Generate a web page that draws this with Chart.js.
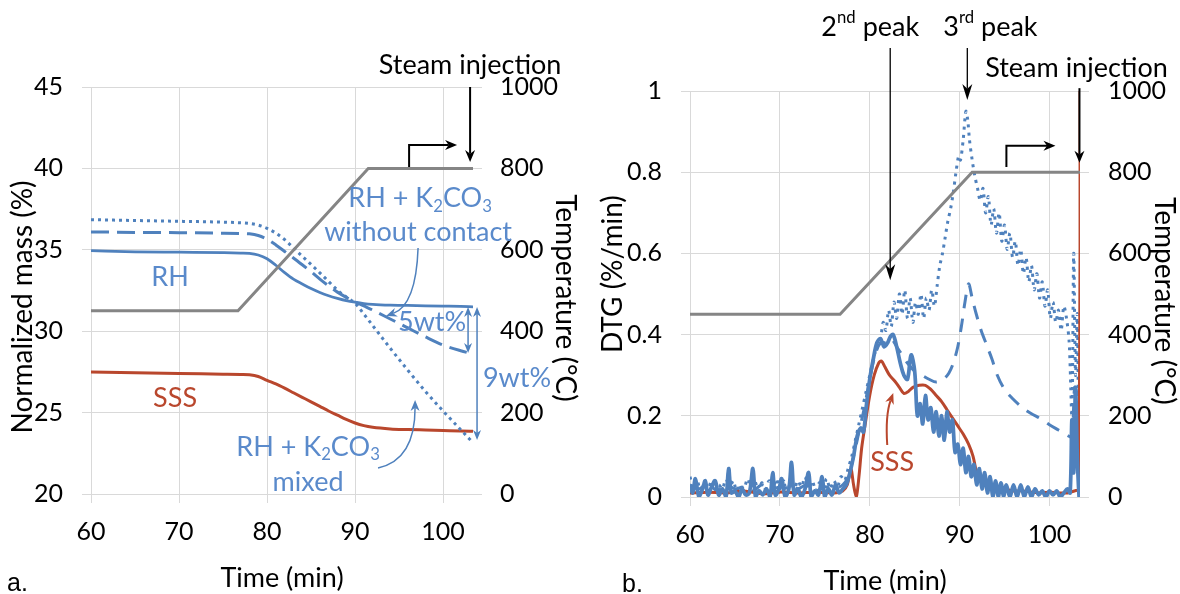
<!DOCTYPE html>
<html><head><meta charset="utf-8">
<script src="https://cdn.jsdelivr.net/npm/chart.js@4.4.1/dist/chart.umd.min.js"></script>
<style>
html,body{margin:0;padding:0;background:#fff;width:1180px;height:594px;overflow:hidden;}
#wa{position:absolute;left:0;top:0;width:590px;height:594px;}
#wb{position:absolute;left:590px;top:0;width:590px;height:594px;}
.lab{position:absolute;font-family:"Liberation Sans",Arial,sans-serif;font-size:25px;line-height:28px;color:#000;}
</style></head><body>
<div id="wa"><canvas id="ca" width="590" height="594"></canvas></div>
<div id="wb"><canvas id="cb" width="590" height="594"></canvas></div>
<div class="lab" style="left:7px;top:568px">a.</div>
<div class="lab" style="left:622px;top:569px">b.</div>
<script>
// ---------- tick labels ----------
const timeTicks = [60, 70, 80, 90, 100];
const massTicks = [20, 25, 30, 35, 40, 45];
const tempTicks = [0, 200, 400, 600, 800, 1000];
const dtgTicks = [0, 0.2, 0.4, 0.6, 0.8, 1];

// ---------- panel a: normalized mass ----------
const tempTimeA = [60, 76.7, 91.5, 103.4];
const tempA = [450, 450, 800, 800];
const massTimeA = [60, 65, 70, 75, 77, 78, 79, 80, 81, 82, 83, 84, 85, 86, 87, 88, 89, 90, 91, 92, 94, 96, 98, 100, 102, 103.4];
const massRH = [34.95, 34.88, 34.85, 34.82, 34.8, 34.78, 34.68, 34.45, 34.05, 33.6, 33.2, 32.9, 32.62, 32.38, 32.18, 32.02, 31.88, 31.78, 31.7, 31.65, 31.6, 31.58, 31.56, 31.54, 31.52, 31.5];
const massNoContact = [36.1, 36.07, 36.05, 36.02, 36.0, 35.98, 35.88, 35.65, 35.3, 34.9, 34.5, 34.08, 33.65, 33.2, 32.78, 32.4, 32.08, 31.8, 31.55, 31.3, 30.75, 30.2, 29.65, 29.15, 28.8, 28.6];
const massMixed = [36.85, 36.8, 36.75, 36.7, 36.66, 36.62, 36.52, 36.32, 36.02, 35.62, 35.12, 34.6, 34.1, 33.58, 33.05, 32.52, 32.1, 31.72, 31.05, 30.35, 28.95, 27.6, 26.3, 25.1, 23.95, 23.15];
const massSSS = [27.5, 27.45, 27.4, 27.36, 27.34, 27.32, 27.22, 26.98, 26.76, 26.5, 26.22, 25.94, 25.66, 25.38, 25.1, 24.84, 24.58, 24.36, 24.2, 24.1, 24.0, 23.96, 23.93, 23.9, 23.87, 23.85];

// ---------- panel b: DTG ----------
const tempTimeB = [60, 76.7, 91.4, 103.4];
const tempB = [450, 450, 800, 800];

const timeRHb = [60, 60.3, 60.6, 61, 61.4, 61.7, 62, 62.4, 62.8, 63.2, 63.6, 64, 64.3, 64.6, 65, 65.4, 65.8, 66.2, 66.6, 67, 67.3, 67.7, 68.1, 68.5, 68.9, 69.2, 69.5, 69.9, 70.2, 70.6, 71, 71.3, 71.6, 72, 72.4, 72.8, 73.2, 73.5, 73.9, 74.3, 74.7, 75, 75.4, 75.8, 76.2, 76.6, 77, 77.4, 77.8, 78.2, 78.6, 79, 79.3, 79.6, 80, 80.4, 80.8, 81.2, 81.6, 82, 82.3, 82.6, 83, 83.4, 83.8, 84.2, 84.6, 85, 85.3, 85.6, 85.9, 86.2, 86.5, 86.8, 87.1, 87.4, 87.7, 88, 88.3, 88.6, 88.9, 89.2, 89.5, 89.8, 90.1, 90.4, 90.7, 91, 91.3, 91.6, 91.9, 92.2, 92.5, 92.8, 93.1, 93.4, 93.7, 94, 94.3, 94.6, 94.9, 95.2, 95.6, 96, 96.4, 96.8, 97.2, 97.6, 98, 98.4, 98.8, 99.2, 99.6, 100, 100.4, 100.8, 101.2, 101.6, 102, 102.3, 102.5, 102.7, 102.9, 103.1, 103.3, 103.4];
const dtgRH = [0.03, 0.01, 0.045, 0.0, 0.02, 0.04, 0.005, 0.025, 0.04, 0.005, 0.02, 0.0, 0.07, 0.01, 0.015, 0.0, 0.02, 0.005, 0.01, 0.07, 0.0, 0.015, 0.005, 0.02, 0.0, 0.06, 0.005, 0.02, 0.045, 0.0, 0.02, 0.085, 0.005, 0.02, 0.0, 0.02, 0.06, 0.0, 0.015, 0.005, 0.05, 0.0, 0.02, 0.005, 0.03, 0.01, 0.02, 0.03, 0.06, 0.1, 0.15, 0.17, 0.16, 0.22, 0.29, 0.34, 0.38, 0.39, 0.37, 0.38, 0.395, 0.4, 0.37, 0.33, 0.3, 0.29, 0.35, 0.31, 0.2, 0.23, 0.18, 0.25, 0.19, 0.22, 0.16, 0.21, 0.15, 0.2, 0.14, 0.21, 0.16, 0.19, 0.11, 0.13, 0.08, 0.12, 0.06, 0.1, 0.05, 0.08, 0.03, 0.07, 0.02, 0.06, 0.01, 0.05, 0.0, 0.04, 0.0, 0.035, 0.0, 0.03, 0.0, 0.03, 0.0, 0.03, 0.0, 0.025, 0.0, 0.02, 0.005, 0.015, 0.0, 0.015, 0.005, 0.015, 0.0, 0.01, 0.02, 0.01, 0.19, 0.06, 0.27, 0.1, 0.0, 0.0];

const timeSSSb = [60, 62, 64, 66, 68, 70, 72, 74, 76, 77, 77.5, 77.9, 78.2, 78.5, 78.8, 79.1, 79.5, 80, 80.5, 81, 81.3, 81.7, 82.2, 82.8, 83.3, 83.8, 84.3, 84.8, 85.5, 86.2, 86.8, 87.4, 88, 88.6, 89.2, 89.8, 90.4, 91, 91.5, 91.9, 92.3, 92.8, 93.4, 94, 95, 96, 97, 98, 99, 100, 101, 102, 102.8, 103.3, 103.4];
const dtgSSS = [0.01, 0.012, 0.01, 0.015, 0.008, 0.012, 0.01, 0.012, 0.01, 0.015, 0.03, 0.07, 0.03, 0.0, 0.05, 0.12, 0.18, 0.25, 0.3, 0.33, 0.335, 0.32, 0.3, 0.285, 0.27, 0.255, 0.26, 0.27, 0.275, 0.275, 0.265, 0.25, 0.235, 0.215, 0.195, 0.175, 0.155, 0.13, 0.1, 0.06, 0.045, 0.04, 0.03, 0.025, 0.02, 0.015, 0.015, 0.012, 0.01, 0.012, 0.01, 0.01, 0.015, 0.02, 1.2];

const timeNoContactB = [60, 61, 62, 63, 64, 65, 66, 67, 68, 69, 70, 71, 72, 73, 74, 75, 76, 77, 77.6, 78.2, 78.8, 79.4, 80, 80.6, 81.2, 81.8, 82.4, 83, 83.6, 84.2, 85, 85.8, 86.6, 87.4, 88.2, 88.8, 89.3, 89.8, 90.2, 90.6, 91, 91.4, 91.8, 92.4, 93, 93.6, 94.2, 95, 96, 97, 98, 99, 100, 101, 102, 102.5, 102.8, 103.1, 103.4];
const dtgNoContact = [0.03, 0.02, 0.035, 0.015, 0.03, 0.02, 0.025, 0.015, 0.03, 0.02, 0.025, 0.03, 0.02, 0.03, 0.015, 0.025, 0.02, 0.03, 0.05, 0.1, 0.16, 0.22, 0.29, 0.35, 0.38, 0.38, 0.39, 0.37, 0.35, 0.33, 0.31, 0.3, 0.29, 0.283, 0.29, 0.305, 0.33, 0.37, 0.42, 0.48, 0.525, 0.49, 0.455, 0.41, 0.375, 0.34, 0.3, 0.265, 0.24, 0.22, 0.205, 0.193, 0.178, 0.165, 0.152, 0.148, 0.27, 0.25, 0.0];

const timeMixedB = [60, 60.4, 60.8, 61.2, 61.6, 62, 62.4, 62.8, 63.2, 63.6, 64, 64.4, 64.8, 65.2, 65.6, 66, 66.4, 66.8, 67.2, 67.6, 68, 68.4, 68.8, 69.2, 69.6, 70, 70.4, 70.8, 71.2, 71.6, 72, 72.4, 72.8, 73.2, 73.6, 74, 74.4, 74.8, 75.2, 75.6, 76, 76.4, 76.8, 77.2, 77.6, 78, 78.4, 78.8, 79.2, 79.6, 80, 80.4, 80.8, 81.2, 81.5, 81.8, 82.1, 82.4, 82.7, 83, 83.3, 83.6, 83.9, 84.2, 84.5, 84.8, 85.1, 85.4, 85.7, 86, 86.3, 86.6, 86.9, 87.2, 87.5, 87.8, 88.1, 88.4, 88.7, 89, 89.3, 89.6, 89.9, 90.1, 90.4, 90.7, 90.9, 91.1, 91.4, 91.7, 92, 92.3, 92.6, 92.9, 93.2, 93.5, 93.8, 94.1, 94.4, 94.7, 95, 95.3, 95.6, 95.9, 96.2, 96.5, 96.8, 97.1, 97.4, 97.7, 98, 98.3, 98.6, 98.9, 99.2, 99.5, 99.8, 100.1, 100.4, 100.7, 101, 101.3, 101.6, 101.9, 102.2, 102.5, 102.7, 102.9, 103.1, 103.3, 103.4];
const dtgMixed = [0.05, 0.02, 0.04, 0.01, 0.035, 0.02, 0.04, 0.015, 0.03, 0.02, 0.045, 0.02, 0.04, 0.015, 0.03, 0.02, 0.045, 0.025, 0.04, 0.015, 0.035, 0.02, 0.04, 0.02, 0.045, 0.02, 0.04, 0.015, 0.035, 0.02, 0.04, 0.025, 0.05, 0.02, 0.04, 0.015, 0.035, 0.02, 0.045, 0.02, 0.04, 0.025, 0.05, 0.04, 0.07, 0.1, 0.14, 0.18, 0.22, 0.26, 0.3, 0.34, 0.37, 0.39, 0.43, 0.41, 0.46, 0.42, 0.48, 0.44, 0.5, 0.45, 0.51, 0.44, 0.49, 0.43, 0.48, 0.45, 0.5, 0.44, 0.49, 0.46, 0.51, 0.47, 0.52, 0.57, 0.6, 0.64, 0.68, 0.71, 0.75, 0.8, 0.84, 0.83, 0.88, 0.95, 0.93, 0.88, 0.83, 0.79, 0.76, 0.73, 0.76, 0.7, 0.74, 0.67, 0.71, 0.65, 0.7, 0.63, 0.67, 0.61, 0.65, 0.59, 0.63, 0.57, 0.61, 0.55, 0.59, 0.53, 0.57, 0.51, 0.55, 0.49, 0.53, 0.47, 0.51, 0.44, 0.48, 0.43, 0.46, 0.41, 0.47, 0.44, 0.38, 0.2, 0.6, 0.3, 0.45, 0.0, 0.0];

// ---------- styling ----------
const FONT = 'Lato, "Open Sans", sans-serif';
const FS = 27;       // annotation text
const TICK_FS = 25;  // tick labels
const TITLE_FS = 28; // axis titles
const BLUE = '#4F81BD', BLUE_T = '#5A8ACB', RED = '#B9472D', GRAY = '#858585', GRID = '#D9D9D9';

const pts = (xs, ys) => xs.map((x, i) => ({x: x, y: ys[i]}));
const setTicks = arr => s => { s.ticks = arr.map(v => ({value: v})); };

function scales(o) {
  const tf = {family: FONT, size: TICK_FS};
  return {
    x: {type: 'linear', min: 60, max: 103.4,
      afterBuildTicks: setTicks(timeTicks), afterFit: s => { s.height = o.xH; },
      grid: {color: GRID, tickColor: GRID, tickLength: 9, lineWidth: 1},
      border: {display: false},
      ticks: {font: tf, color: '#000', padding: o.xPad, maxRotation: 0, autoSkip: false, callback: v => String(v)},
      title: {display: true, text: 'Time (min)', font: {family: FONT, size: 27}, color: '#000', padding: {top: 0, bottom: o.xTP}}},
    y: {type: 'linear', position: 'left', min: o.yMin, max: o.yMax,
      afterBuildTicks: setTicks(o.yTicks), afterFit: s => { s.width = o.yW; },
      grid: {color: GRID, tickColor: GRID, tickLength: 9, lineWidth: 1},
      border: {display: false},
      ticks: {font: tf, color: '#000', padding: 19, autoSkip: false, callback: v => String(v)}},
    y1: {type: 'linear', position: 'right', min: 0, max: 1000,
      afterBuildTicks: setTicks(tempTicks), afterFit: s => { s.width = o.y1W; },
      grid: {drawOnChartArea: false, tickColor: GRID, tickLength: 9, lineWidth: 1},
      border: {display: false},
      ticks: {font: tf, color: '#000', padding: o.y1Pad, autoSkip: false, callback: v => String(v)}}
  };
}

// ---------- annotation drawing ----------
function drawRich(ctx, x, y, parts, color, size) {
  size = size || FS;
  let widths = [], total = 0;
  parts.forEach(p => {
    const sz = p[1] ? size * 0.62 : size;
    ctx.font = sz + 'px ' + FONT;
    const w = ctx.measureText(p[0]).width;
    widths.push(w); total += w;
  });
  let cx = x - total / 2;
  ctx.fillStyle = color; ctx.textBaseline = 'middle'; ctx.textAlign = 'left';
  parts.forEach((p, i) => {
    const sz = p[1] ? size * 0.62 : size;
    ctx.font = sz + 'px ' + FONT;
    let dy = 0;
    if (p[1] === 'sub') dy = size * 0.3;
    if (p[1] === 'sup') dy = -size * 0.33;
    ctx.fillText(p[0], cx, y + dy);
    cx += widths[i];
  });
}
function arrowHead(ctx, fx, fy, tx, ty, len, w, color) {
  const a = Math.atan2(ty - fy, tx - fx);
  const c = Math.cos(a), s = Math.sin(a);
  ctx.fillStyle = color;
  ctx.beginPath();
  ctx.moveTo(tx, ty);
  ctx.lineTo(tx - len * c + w / 2 * s, ty - len * s - w / 2 * c);
  ctx.lineTo(tx - len * 0.7 * c, ty - len * 0.7 * s);
  ctx.lineTo(tx - len * c - w / 2 * s, ty - len * s + w / 2 * c);
  ctx.closePath(); ctx.fill();
}
function annotPlugin(items) {
  return {
    id: 'annot',
    afterDraw(chart) {
      const ctx = chart.ctx;
      const X = v => chart.scales.x.getPixelForValue(v);
      const Y = v => chart.scales.y.getPixelForValue(v);
      ctx.save();
      items.forEach(it => {
        if (it.type === 'text') {
          drawRich(ctx, X(it.at[0]), Y(it.at[1]), it.parts, it.color);
        } else if (it.type === 'vtext') {
          ctx.save();
          ctx.translate(X(it.at[0]), Y(it.at[1]));
          ctx.rotate(it.rot * Math.PI / 180);
          drawRich(ctx, 0, 0, it.parts, it.color, TITLE_FS);
          ctx.restore();
        } else if (it.type === 'arrow') {
          const p = it.pts.map(q => [X(q[0]), Y(q[1])]);
          const n = p.length;
          const a = Math.atan2(p[n-1][1] - p[n-2][1], p[n-1][0] - p[n-2][0]);
          const back = it.len * 0.7;
          ctx.strokeStyle = it.color; ctx.lineWidth = it.width; ctx.lineCap = 'butt'; ctx.lineJoin = 'miter';
          ctx.beginPath();
          let start = p[0];
          if (it.both) {
            const b = Math.atan2(p[0][1] - p[1][1], p[0][0] - p[1][0]);
            start = [p[0][0] - back * Math.cos(b), p[0][1] - back * Math.sin(b)];
          }
          ctx.moveTo(start[0], start[1]);
          for (let i = 1; i < n - 1; i++) ctx.lineTo(p[i][0], p[i][1]);
          ctx.lineTo(p[n-1][0] - back * Math.cos(a), p[n-1][1] - back * Math.sin(a));
          ctx.stroke();
          arrowHead(ctx, p[n-2][0], p[n-2][1], p[n-1][0], p[n-1][1], it.len, it.w, it.color);
          if (it.both) arrowHead(ctx, p[1][0], p[1][1], p[0][0], p[0][1], it.len, it.w, it.color);
        } else if (it.type === 'curve') {
          const f = [X(it.from[0]), Y(it.from[1])], c = [X(it.ctrl[0]), Y(it.ctrl[1])], t = [X(it.to[0]), Y(it.to[1])];
          const a = Math.atan2(t[1] - c[1], t[0] - c[0]);
          const back = it.len * 0.7;
          ctx.strokeStyle = it.color; ctx.lineWidth = it.width;
          ctx.beginPath();
          ctx.moveTo(f[0], f[1]);
          ctx.quadraticCurveTo(c[0], c[1], t[0] - back * Math.cos(a), t[1] - back * Math.sin(a));
          ctx.stroke();
          arrowHead(ctx, c[0], c[1], t[0], t[1], it.len, it.w, it.color);
        }
      });
      ctx.restore();
    }
  };
}

const annotA = [
  {type: 'vtext', at: [52.27, 31.49], rot: -90, parts: [['Normalized mass (%)']], color: '#000'},
  {type: 'vtext', at: [113.86, 32.04], rot: 90, parts: [['Temperature (°C)']], color: '#000'},
  {type: 'text', at: [103.07, 46.35], parts: [['Steam injection']], color: '#000'},
  {type: 'arrow', pts: [[103.07, 45.0], [103.07, 40.39]], color: '#000', width: 2, len: 12, w: 10},
  {type: 'arrow', pts: [[96.14, 40.09], [96.14, 41.44], [101.59, 41.44]], color: '#000', width: 2, len: 12, w: 10},
  {type: 'text', at: [97.39, 38.18], parts: [['RH + K'], ['2', 'sub'], ['CO'], ['3', 'sub']], color: BLUE_T},
  {type: 'text', at: [97.16, 36.09], parts: [['without contact']], color: BLUE_T},
  {type: 'curve', from: [97.16, 35.11], ctrl: [96.93, 31.61], to: [93.52, 30.93], color: BLUE, width: 1.5, len: 11, w: 9},
  {type: 'text', at: [68.98, 33.33], parts: [['RH']], color: BLUE_T},
  {type: 'text', at: [69.55, 25.9], parts: [['SSS']], color: RED},
  {type: 'text', at: [84.66, 22.89], parts: [['RH + K'], ['2', 'sub'], ['CO'], ['3', 'sub']], color: BLUE_T},
  {type: 'text', at: [84.66, 20.74], parts: [['mixed']], color: BLUE_T},
  {type: 'curve', from: [92.61, 21.6], ctrl: [96.82, 22.09], to: [96.82, 25.77], color: BLUE, width: 1.5, len: 11, w: 9},
  {type: 'text', at: [98.75, 30.57], parts: [['5wt%']], color: BLUE_T},
  {type: 'arrow', pts: [[102.84, 31.49], [102.84, 28.66]], both: true, color: BLUE, width: 1.5, len: 10, w: 8},
  {type: 'arrow', pts: [[103.86, 31.49], [103.86, 23.32]], both: true, color: BLUE, width: 1.5, len: 10, w: 8},
  {type: 'text', at: [108.4, 27.13], parts: [['9wt%']], color: BLUE_T}
];
const annotB = [
  {type: 'vtext', at: [51.42, 0.549], rot: -90, parts: [['DTG (%/min)']], color: '#000'},
  {type: 'vtext', at: [112.7, 0.483], rot: 90, parts: [['Temperature (°C)']], color: '#000'},
  {type: 'text', at: [80.06, 1.158], parts: [['2'], ['nd', 'sup'], [' peak']], color: '#000'},
  {type: 'text', at: [93.43, 1.158], parts: [['3'], ['rd', 'sup'], [' peak']], color: '#000'},
  {type: 'arrow', pts: [[82.28, 1.106], [82.28, 0.534]], color: '#000', width: 1.3, len: 16, w: 10},
  {type: 'arrow', pts: [[90.86, 1.106], [90.86, 0.978]], color: '#000', width: 1.3, len: 16, w: 10},
  {type: 'text', at: [103.01, 1.057], parts: [['Steam injection']], color: '#000'},
  {type: 'arrow', pts: [[103.34, 1.007], [103.34, 0.823]], color: '#000', width: 2, len: 12, w: 10},
  {type: 'arrow', pts: [[95.21, 0.813], [95.21, 0.865], [100.67, 0.865]], color: '#000', width: 2, len: 12, w: 10},
  {type: 'text', at: [82.5, 0.086], parts: [['SSS']], color: RED},
  {type: 'curve', from: [81.95, 0.128], ctrl: [81.73, 0.202], to: [82.62, 0.256], color: RED, width: 2, len: 11, w: 9}
];

const common = {responsive: false, animation: false, devicePixelRatio: 1,
  plugins: {legend: {display: false}, tooltip: {enabled: false}},
  elements: {point: {radius: 0}}};

new Chart(document.getElementById('ca'), {
  type: 'line',
  data: {datasets: [
    {data: pts(tempTimeA, tempA), yAxisID: 'y1', borderColor: GRAY, borderWidth: 3, tension: 0},
    {data: pts(massTimeA, massRH), yAxisID: 'y', borderColor: BLUE, borderWidth: 2.75, cubicInterpolationMode: 'monotone'},
    {data: pts(massTimeA, massNoContact), yAxisID: 'y', borderColor: BLUE, borderWidth: 3, borderDash: [18, 8], cubicInterpolationMode: 'monotone'},
    {data: pts(massTimeA, massMixed), yAxisID: 'y', borderColor: BLUE, borderWidth: 3, borderDash: [3, 4], cubicInterpolationMode: 'monotone'},
    {data: pts(massTimeA, massSSS), yAxisID: 'y', borderColor: RED, borderWidth: 3, cubicInterpolationMode: 'monotone'}
  ]},
  options: Object.assign({}, common, {
    layout: {padding: {top: 87, left: 0, right: 0, bottom: 0}},
    scales: scales({xH: 100, xPad: 14, xTP: 0, yMin: 20, yMax: 45, yTicks: massTicks, yW: 91, y1W: 117, y1Pad: 18})
  }),
  plugins: [annotPlugin(annotA)]
});

new Chart(document.getElementById('cb'), {
  type: 'line',
  data: {datasets: [
    {data: pts(timeRHb, dtgRH), yAxisID: 'y', borderColor: BLUE, borderWidth: 3.75, tension: 0.35},
    {data: pts(tempTimeB, tempB), yAxisID: 'y1', borderColor: GRAY, borderWidth: 3, tension: 0},
    {data: pts(timeSSSb, dtgSSS), yAxisID: 'y', borderColor: RED, borderWidth: 3, tension: 0.3},
    {data: pts(timeNoContactB, dtgNoContact), yAxisID: 'y', borderColor: BLUE, borderWidth: 3, borderDash: [14, 10], tension: 0.3},
    {data: pts(timeMixedB, dtgMixed), yAxisID: 'y', borderColor: BLUE, borderWidth: 3, borderDash: [3, 5], tension: 0.3}
  ]},
  options: Object.assign({}, common, {
    layout: {padding: {top: 91, left: 0, right: 0, bottom: 0}},
    scales: scales({xH: 97, xPad: 14, xTP: -3, yMin: 0, yMax: 1, yTicks: dtgTicks, yW: 100, y1W: 100, y1Pad: 19})
  }),
  plugins: [annotPlugin(annotB)]
});
</script>
</body></html>
